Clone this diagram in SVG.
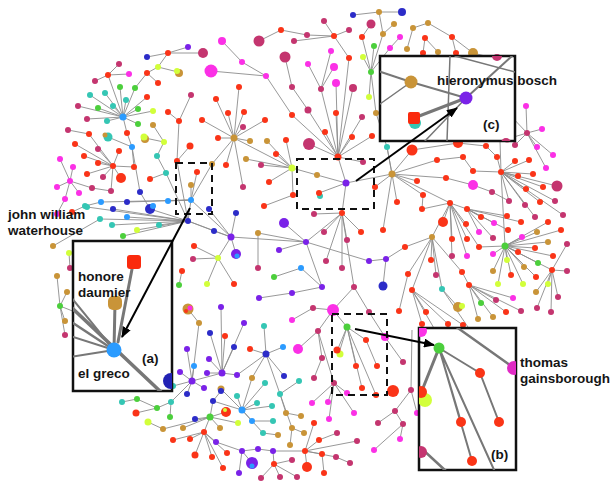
<svg xmlns="http://www.w3.org/2000/svg" width="612" height="481" viewBox="0 0 612 481">
<style>
.e{fill:none;stroke:#8c8c8c;stroke-width:0.9}
.r{fill:#fa3418}.c{fill:#c4356f}.m{fill:#fb30e6}.g{fill:#c99438}.p{fill:#7a22e8}.b{fill:#2c2cc8}.lb{fill:#2b9bff}.t{fill:#35c6b4}.gr{fill:#4ccf3c}.y{fill:#d2ff3a}
.lbl{font-family:"Liberation Sans",Arial,sans-serif;font-weight:bold;font-size:13.5px;fill:#151515}
.box{fill:#fff;stroke:#111;stroke-width:2.5}
.dash{fill:none;stroke:#111;stroke-width:2;stroke-dasharray:7 5}
.il{fill:none;stroke:#777;stroke-linecap:round}
.arr{stroke:#000;stroke-width:2;fill:none}
</style>
<defs>
<marker id="ah" markerWidth="11" markerHeight="9" refX="10" refY="4.5" orient="auto" markerUnits="userSpaceOnUse"><path d="M0 0L11 4.5L0 9z" fill="#000"/></marker>
<clipPath id="clipA"><rect x="73" y="241" width="99" height="150"/></clipPath>
<clipPath id="clipB"><rect x="419" y="328" width="97" height="142"/></clipPath>
<clipPath id="clipC"><rect x="380" y="56" width="135" height="85"/></clipPath>
<filter id="soft" x="-5%" y="-5%" width="110%" height="110%"><feGaussianBlur stdDeviation="0.7"/></filter>
</defs>
<rect width="612" height="481" fill="#fff"/>
<g id="connectors">
<path class="e" d="M123 117L108 75M123 117L90 95M123 117L78 106M123 117L87 119M123 117L98 108M123 117L105 93M123 117L113 106M123 117L120 87M123 117L126 100M123 117L135 88M123 117L138 109M123 117L153 111M123 117L138 124M123 117L107 121M123 117L127 133M123 117L147 97M108 75L95 81M108 75L129 74M108 75L119 64M135 88L147 73L158 67L168 53L147 57M168 53L188 47M168 53L203 53M158 67L178 72M147 73L158 83M127 133L132 147L134 167M108 137L132 147M132 147L140 192L150 209"/>
<path class="e" d="M113 166L75 144M113 166L89 134M113 166L98 149M113 166L84 156M113 166L98 163M113 166L87 174M113 166L103 177M113 166L119 151M113 166L121 178M113 166L111 191M113 166L134 167M68 130L89 134M92 188L111 191M70 181L60 159M70 181L73 167M70 181L57 187M70 181L79 193M70 181L65 199M70 181L92 188M65 199L57 214"/>
<path class="e" d="M191 95L179 121L177 161L188 221M168 112L179 121M153 125L164 142L157 156L166 173L188 221M145 138L164 142M190 146L177 161M150 179L166 173"/>
<path class="e" d="M191 200L197 172M191 200L191 185M191 200L168 201M191 200L188 221M191 200L231 237M191 200L101 202M191 200L127 202M212 164L191 200M188 221L87 207M188 221L100 219M188 221L112 225M188 221L127 217M188 221L113 209M188 221L150 209M188 221L159 225M188 221L137 230M188 221L123 236M188 221L214 231M188 221L231 237M72 212L85 206L101 202M53 246L100 219M69 253L70 268M60 306L57 276M60 306L67 292M60 306L65 321M60 306L65 335M60 306L90 318"/>
<path class="e" d="M234 138L216 99M234 138L228 113M234 138L239 87M234 138L244 112M234 138L202 120M234 138L218 138M234 138L226 165M234 138L212 164M234 138L243 127M234 138L265 120M234 138L250 141M234 138L243 187M234 138L292 168M246 159L292 168"/>
<path class="e" d="M222 41L242 62L266 76L292 115L338 157M211 71L266 76M259 41L281 30L307 35L334 36M285 57L292 87L308 110L338 157M334 36L294 41M334 36L349 30M334 36L324 21M334 36L349 58L338 157M338 157L325 132M338 157L336 113M338 157L352 137M338 157L363 162M338 157L372 136M338 157L362 117M338 157L353 88M338 157L336 83M338 157L321 89M338 157L309 144M338 157L346 183M321 89L308 64M321 89L331 51M321 89L334 67M353 15L379 12L402 12M379 12L383 34L394 24M383 34L371 72M371 72L363 57M371 72L374 46M371 72L369 97M371 72L376 113L387 147L392 174M371 72L390 48L400 37M371 72L362 37L371 24"/>
<path class="e" d="M292 168L267 141M292 168L286 140M292 168L276 154M292 168L261 165M292 168L269 182M292 168L317 175L346 183M292 168L293 195L264 206M319 193L346 183M346 183L392 174M346 183L342 213"/>
<path class="e" d="M392 174L387 147M392 174L375 187M392 174L397 202M392 174L383 230M392 174L412 150M392 174L437 160L463 157L473 171L501 172M392 174L446 178L473 185L492 192L509 201M392 174L417 181M392 174L423 195L422 209M392 174L450 203M412 150L458 143L486 146L497 157L501 172M515 161L501 172M529 160L501 172M450 203L443 222M450 203L452 239M450 203L452 256M450 203L466 224M450 203L467 239M450 203L467 256M450 203L479 247M450 203L467 209M450 203L422 209M450 203L432 237M467 209L481 217M467 209L494 223M467 209L508 230M467 209L507 216M467 209L521 222M467 209L493 238M467 209L479 232"/>
<path class="e" d="M432 237L405 247M432 237L408 274M432 237L431 260M432 237L436 275M432 237L442 289M432 237L412 290M442 289L458 307M432 237L462 272L469 285M469 285L513 298M469 285L496 300M469 285L506 312M469 285L521 311M469 285L481 303M469 285L493 317M469 285L478 319M412 290L426 312M412 290L422 324M412 290L448 324M412 290L463 325M442 289L470 330M412 290L435 330M386 259L405 247"/>
<path class="e" d="M413 28L428 23L452 37L473 53L497 59L515 70M413 28L407 49M425 38L423 53M438 52L425 38M456 53L452 37M527 133L526 106M527 133L542 129M527 133L537 147M527 133L553 155M527 133L546 168M527 133L507 139M527 133L515 145M527 133L510 115M501 172L518 176M501 172L533 174M501 172L526 189M501 172L543 187M501 172L557 186M501 172L540 202M501 172L555 201M501 172L525 205M501 172L535 217M501 172L563 215M501 172L509 201M501 172L500 141M501 172L505 246"/>
<path class="e" d="M505 246L522 237M505 246L537 232M505 246L548 222M505 246L561 230M505 246L548 242M505 246L535 248M505 246L553 256M505 246L518 252M505 246L538 263M505 246L524 267M505 246L507 260M505 246L511 275M505 246L498 284M505 246L523 284M505 246L536 277M505 246L493 271M505 246L493 254M505 246L479 247M505 246L552 270M552 270L567 244M552 270L567 271M552 270L558 297M552 270L536 292M552 270L548 284M552 270L537 308M552 270L551 312"/>
<path class="e" d="M231 237L236 213M231 237L214 231M231 237L209 209M231 237L218 258M231 237L236 254M231 237L306 242M218 258L194 246M218 258L193 259M218 258L207 284M218 258L234 284M306 242L284 223M306 242L279 250M306 242L258 233L258 268M306 242L369 261L386 259L383 286M306 242L322 287M306 242L342 213M342 213L314 214M342 213L324 232M342 213L326 261M342 213L342 268M342 213L347 240M342 213L361 232M342 213L354 287M322 287L301 268L274 277M322 287L292 293L259 298M354 287L333 310L313 308L292 320M333 310L318 331L298 349M333 310L347 327M354 287L369 312L385 337L403 362M318 331L322 358L314 378M318 331L334 383M408 274L399 311"/>
<path class="e" d="M334 383L312 403M334 383L328 402M334 383L329 419M334 383L354 413M334 383L347 393M347 327L337 351M347 327L339 353M347 327L366 340L377 366M347 327L356 366M347 327L362 388M347 327L376 395M378 423L395 411L403 424L374 450M403 424L400 439M395 411L411 390L412 330M417 413L411 390"/>
<path class="e" d="M222 373L221 307M222 373L210 333M222 373L225 336M222 373L234 347M222 373L244 323M222 373L237 375M222 373L207 373M222 373L209 359M222 373L192 381M192 381L187 349M192 381L180 372M192 381L194 366M192 381L199 323L188 309M192 381L204 388M192 381L187 394M192 381L173 386M192 381L171 402M179 285L182 271M266 354L250 349M266 354L283 347M266 354L284 376M266 354L264 326M266 354L252 378L242 410M266 354L237 375"/>
<path class="e" d="M242 410L237 396M242 410L257 403M242 410L265 383M242 410L272 406M242 410L252 421L273 421M242 410L263 433M242 410L213 401L221 391M242 410L221 389M266 354L280 394L299 381M280 394L286 413L301 416M280 394L292 428L304 433M292 428L290 445M278 435L263 433M210 417L195 419M210 417L183 428M210 417L163 429M210 417L220 428M210 417L238 423M210 417L226 412M210 417L213 401M210 417L204 432M171 402L170 417M171 402L157 408L136 413M148 422L163 429M122 402L137 399L157 408"/>
<path class="e" d="M204 432L173 440M204 432L190 439M204 432L195 455M204 432L212 457M204 432L223 468M204 432L227 453M204 432L216 442L242 451L258 449L273 451L305 451M242 451L239 473M242 451L252 463M273 451L274 464L261 478M274 464L280 477M274 464L297 477M274 464L292 460M305 451L307 467M305 451L319 440L337 433M305 451L322 454L324 473M305 451L314 423M305 451L336 457L350 463M305 451L357 441"/>
</g>
<g id="nodes-upper-left">
<circle class="lb" cx="123" cy="117" r="3.5"/><circle class="r" cx="108" cy="75" r="3"/><circle class="t" cx="90" cy="95" r="3"/><circle class="c" cx="78" cy="106" r="3"/><circle class="c" cx="87" cy="119" r="3"/><circle class="gr" cx="98" cy="108" r="3"/><circle class="t" cx="105" cy="93" r="3"/><circle class="t" cx="113" cy="106" r="3"/><circle class="gr" cx="120" cy="87" r="3"/><circle class="t" cx="126" cy="100" r="3"/><circle class="gr" cx="135" cy="88" r="3"/><circle class="gr" cx="138" cy="109" r="3"/><circle class="y" cx="153" cy="111" r="3"/><circle class="gr" cx="138" cy="124" r="3"/><circle class="t" cx="107" cy="121" r="3"/><circle class="r" cx="127" cy="133" r="3"/><circle class="r" cx="147" cy="97" r="3"/><circle class="c" cx="95" cy="81" r="3"/><circle class="m" cx="129" cy="74" r="3"/><circle class="c" cx="119" cy="64" r="3"/><circle class="r" cx="147" cy="73" r="3"/><circle class="y" cx="158" cy="67" r="3"/><circle class="r" cx="168" cy="53" r="3"/><circle class="b" cx="147" cy="57" r="3"/><circle class="p" cx="188" cy="47" r="3"/><circle class="c" cx="203" cy="53" r="5"/><circle class="g" cx="179" cy="73" r="4"/><circle class="y" cx="177" cy="71" r="3"/><circle class="r" cx="158" cy="83" r="3"/><circle class="lb" cx="132" cy="147" r="3"/><circle class="r" cx="134" cy="167" r="3"/><circle class="t" cx="108" cy="137" r="4.5"/><circle class="g" cx="105" cy="135" r="2.5"/><circle class="b" cx="140" cy="192" r="3"/>
<circle class="r" cx="113" cy="166" r="3"/><circle class="r" cx="75" cy="144" r="3"/><circle class="r" cx="89" cy="134" r="3"/><circle class="c" cx="98" cy="149" r="3"/><circle class="r" cx="84" cy="156" r="3"/><circle class="r" cx="98" cy="163" r="3"/><circle class="r" cx="87" cy="174" r="3"/><circle class="c" cx="103" cy="177" r="3"/><circle class="r" cx="119" cy="151" r="3"/><circle class="r" cx="121" cy="178" r="5"/><circle class="c" cx="111" cy="191" r="3"/><circle class="c" cx="68" cy="130" r="3"/><circle class="c" cx="92" cy="188" r="3"/>
<circle class="m" cx="70" cy="181" r="3"/><circle class="m" cx="60" cy="159" r="3"/><circle class="m" cx="73" cy="167" r="3"/><circle class="m" cx="57" cy="187" r="3"/><circle class="m" cx="79" cy="193" r="3"/><circle class="m" cx="65" cy="199" r="3"/><circle class="m" cx="57" cy="214" r="3"/>
<circle class="g" cx="153" cy="125" r="3"/><circle class="y" cx="164" cy="142" r="3"/><circle class="g" cx="145" cy="139" r="4"/><circle class="y" cx="144" cy="137" r="3.5"/><circle class="c" cx="191" cy="95" r="3"/><circle class="r" cx="179" cy="121" r="3"/><circle class="r" cx="168" cy="112" r="3"/><circle class="t" cx="157" cy="156" r="3"/><circle class="r" cx="177" cy="161" r="3"/><circle class="r" cx="190" cy="146" r="3.5"/><circle class="t" cx="166" cy="173" r="3"/><circle class="r" cx="150" cy="179" r="3"/>
</g>
<g id="nodes-waterhouse">
<circle class="lb" cx="191" cy="200" r="3"/><circle class="r" cx="197" cy="172" r="3"/><circle class="g" cx="191" cy="185" r="3"/><circle class="lb" cx="168" cy="201" r="3"/><circle class="b" cx="188" cy="221" r="3"/><circle class="lb" cx="101" cy="202" r="3"/><circle class="b" cx="127" cy="202" r="3"/><circle class="t" cx="87" cy="207" r="3"/><circle class="t" cx="100" cy="219" r="3"/><circle class="t" cx="112" cy="225" r="3"/><circle class="lb" cx="127" cy="217" r="3"/><circle class="b" cx="113" cy="209" r="3"/><circle class="b" cx="150" cy="209" r="5"/><circle class="lb" cx="153" cy="206" r="3"/><circle class="t" cx="159" cy="225" r="3"/><circle class="y" cx="137" cy="230" r="3"/><circle class="gr" cx="123" cy="236" r="3"/><circle class="b" cx="214" cy="231" r="3"/><circle class="r" cx="72" cy="212" r="3"/><circle class="t" cx="85" cy="206" r="3"/><circle class="g" cx="53" cy="246" r="3"/><circle class="y" cx="69" cy="253" r="3"/><circle class="c" cx="70" cy="268" r="3"/><circle class="g" cx="57" cy="276" r="3"/><circle class="g" cx="67" cy="292" r="3"/><circle class="gr" cx="60" cy="306" r="3"/><circle class="g" cx="65" cy="321" r="3"/><circle class="c" cx="65" cy="335" r="3"/>
<circle class="g" cx="234" cy="138" r="3.5"/><circle class="r" cx="216" cy="99" r="3"/><circle class="r" cx="228" cy="113" r="3"/><circle class="r" cx="239" cy="87" r="3"/><circle class="r" cx="244" cy="112" r="3"/><circle class="r" cx="202" cy="120" r="3"/><circle class="r" cx="218" cy="138" r="3"/><circle class="r" cx="226" cy="165" r="3"/><circle class="g" cx="212" cy="164" r="3"/><circle class="c" cx="243" cy="127" r="3"/><circle class="r" cx="265" cy="120" r="3"/><circle class="g" cx="250" cy="141" r="3"/><circle class="c" cx="243" cy="187" r="3"/><circle class="g" cx="246" cy="159" r="3"/>
</g>
<g id="nodes-top">
<circle class="m" cx="222" cy="41" r="4"/><circle class="m" cx="242" cy="62" r="3"/><circle class="m" cx="266" cy="76" r="3"/><circle class="m" cx="211" cy="71" r="6.5"/><circle class="c" cx="259" cy="41" r="5.5"/><circle class="r" cx="281" cy="30" r="3"/><circle class="c" cx="307" cy="35" r="3"/><circle class="r" cx="334" cy="36" r="3"/><circle class="c" cx="285" cy="57" r="5.5"/><circle class="c" cx="292" cy="87" r="3"/><circle class="c" cx="308" cy="110" r="3.5"/><circle class="c" cx="294" cy="41" r="3"/><circle class="c" cx="349" cy="30" r="3"/><circle class="c" cx="324" cy="21" r="3"/><circle class="r" cx="349" cy="58" r="3"/>
<circle class="r" cx="338" cy="157" r="3.5"/><circle class="r" cx="292" cy="115" r="3"/><circle class="r" cx="325" cy="132" r="3"/><circle class="r" cx="336" cy="113" r="3"/><circle class="r" cx="352" cy="137" r="3"/><circle class="c" cx="363" cy="162" r="3"/><circle class="r" cx="372" cy="136" r="3"/><circle class="c" cx="362" cy="117" r="3"/><circle class="c" cx="353" cy="88" r="4"/><circle class="m" cx="336" cy="83" r="4"/><circle class="c" cx="321" cy="89" r="3"/><circle class="c" cx="309" cy="144" r="6"/><circle class="m" cx="308" cy="64" r="3"/><circle class="m" cx="331" cy="51" r="3"/><circle class="m" cx="334" cy="67" r="4"/>
<circle class="b" cx="353" cy="15" r="3"/><circle class="g" cx="379" cy="12" r="3"/><circle class="b" cx="402" cy="12" r="4"/><circle class="g" cx="383" cy="34" r="3"/><circle class="g" cx="394" cy="24" r="3"/><circle class="gr" cx="371" cy="72" r="3"/><circle class="y" cx="363" cy="57" r="3"/><circle class="gr" cx="374" cy="46" r="3"/><circle class="y" cx="369" cy="97" r="3"/><circle class="g" cx="376" cy="113" r="3"/><circle class="m" cx="390" cy="48" r="3"/><circle class="r" cx="362" cy="37" r="3"/><circle class="c" cx="371" cy="24" r="4.5"/><circle class="m" cx="400" cy="37" r="3"/><circle class="t" cx="387" cy="147" r="3"/><circle class="g" cx="392" cy="174" r="3.5"/>
<circle class="y" cx="292" cy="168" r="3.5"/><circle class="g" cx="267" cy="141" r="3"/><circle class="r" cx="286" cy="140" r="3"/><circle class="r" cx="276" cy="154" r="3"/><circle class="c" cx="261" cy="165" r="3"/><circle class="r" cx="269" cy="182" r="3"/><circle class="g" cx="317" cy="175" r="3"/><circle class="r" cx="293" cy="195" r="3"/><circle class="r" cx="264" cy="206" r="3"/><circle class="t" cx="320" cy="196" r="3"/><circle class="r" cx="319" cy="193" r="3"/>
<circle class="p" cx="346" cy="183" r="3.5"/>
</g>
<g id="nodes-right">
<circle class="r" cx="375" cy="187" r="3"/><circle class="r" cx="397" cy="202" r="3"/><circle class="r" cx="383" cy="230" r="3"/><circle class="r" cx="412" cy="150" r="5.5"/><circle class="r" cx="437" cy="160" r="3"/><circle class="r" cx="446" cy="178" r="3"/><circle class="r" cx="417" cy="181" r="3"/><circle class="r" cx="423" cy="195" r="3"/><circle class="r" cx="450" cy="203" r="3"/>
<circle class="r" cx="443" cy="222" r="5"/><circle class="r" cx="452" cy="239" r="3"/><circle class="c" cx="452" cy="256" r="3"/><circle class="r" cx="466" cy="224" r="3"/><circle class="r" cx="467" cy="239" r="3"/><circle class="m" cx="467" cy="256" r="3"/><circle class="r" cx="479" cy="247" r="3"/><circle class="r" cx="467" cy="209" r="3"/><circle class="r" cx="422" cy="209" r="3"/><circle class="g" cx="432" cy="237" r="3"/>
<circle class="r" cx="481" cy="217" r="3"/><circle class="m" cx="494" cy="223" r="3"/><circle class="r" cx="508" cy="230" r="3"/><circle class="r" cx="507" cy="216" r="3"/><circle class="r" cx="521" cy="222" r="3"/><circle class="c" cx="493" cy="238" r="3"/><circle class="m" cx="479" cy="232" r="3"/>
<circle class="r" cx="405" cy="247" r="3"/><circle class="r" cx="408" cy="274" r="3"/><circle class="r" cx="431" cy="260" r="3"/><circle class="c" cx="436" cy="275" r="3"/><circle class="t" cx="442" cy="289" r="3"/><circle class="r" cx="412" cy="290" r="3"/>
<circle class="g" cx="458" cy="307" r="5"/><circle class="y" cx="462" cy="306" r="3"/><circle class="r" cx="462" cy="272" r="3"/><circle class="r" cx="469" cy="285" r="3"/><circle class="m" cx="513" cy="298" r="3"/><circle class="c" cx="496" cy="300" r="3"/><circle class="r" cx="506" cy="312" r="3"/><circle class="c" cx="521" cy="311" r="3"/><circle class="gr" cx="481" cy="303" r="3"/><circle class="g" cx="493" cy="317" r="3"/><circle class="g" cx="478" cy="319" r="3"/>
<circle class="r" cx="426" cy="312" r="3"/><circle class="r" cx="422" cy="324" r="3"/><circle class="r" cx="448" cy="324" r="3"/><circle class="r" cx="463" cy="325" r="3"/>
<circle class="g" cx="428" cy="23" r="3"/><circle class="r" cx="452" cy="37" r="3"/><circle class="g" cx="473" cy="53" r="5"/><circle class="c" cx="497" cy="59" r="5"/><circle class="g" cx="413" cy="28" r="3"/><circle class="g" cx="407" cy="49" r="3"/><circle class="r" cx="425" cy="38" r="3"/><circle class="r" cx="423" cy="53" r="3"/><circle class="g" cx="438" cy="52" r="3"/><circle class="r" cx="456" cy="53" r="3"/>
<circle class="c" cx="527" cy="133" r="3"/><circle class="m" cx="526" cy="106" r="3"/><circle class="m" cx="542" cy="129" r="3"/><circle class="m" cx="537" cy="147" r="3"/><circle class="m" cx="553" cy="155" r="3"/><circle class="m" cx="546" cy="168" r="3"/><circle class="c" cx="507" cy="139" r="3.5"/><circle class="c" cx="515" cy="145" r="3"/>
<circle class="r" cx="501" cy="172" r="3"/><circle class="r" cx="518" cy="176" r="3"/><circle class="r" cx="533" cy="174" r="3"/><circle class="r" cx="526" cy="189" r="3"/><circle class="r" cx="543" cy="187" r="3"/><circle class="c" cx="557" cy="186" r="5.5"/><circle class="r" cx="540" cy="202" r="3"/><circle class="c" cx="555" cy="201" r="3"/><circle class="c" cx="525" cy="205" r="3"/><circle class="c" cx="535" cy="217" r="3"/><circle class="c" cx="563" cy="215" r="3"/><circle class="c" cx="509" cy="201" r="3"/>
<circle class="r" cx="458" cy="143" r="5"/><circle class="r" cx="486" cy="146" r="3"/><circle class="r" cx="497" cy="157" r="3"/><circle class="r" cx="515" cy="161" r="3"/><circle class="r" cx="529" cy="160" r="3"/><circle class="r" cx="463" cy="157" r="3"/><circle class="r" cx="473" cy="171" r="3"/><circle class="m" cx="473" cy="185" r="5"/><circle class="c" cx="492" cy="192" r="3"/>
<circle class="gr" cx="505" cy="246" r="3.5"/><circle class="m" cx="522" cy="237" r="3"/><circle class="g" cx="537" cy="232" r="3"/><circle class="r" cx="548" cy="222" r="3"/><circle class="r" cx="561" cy="230" r="3"/><circle class="g" cx="548" cy="242" r="3"/><circle class="r" cx="535" cy="248" r="3"/><circle class="r" cx="553" cy="256" r="3"/><circle class="r" cx="518" cy="252" r="3"/><circle class="gr" cx="538" cy="263" r="3"/><circle class="g" cx="524" cy="267" r="3"/><circle class="y" cx="507" cy="260" r="3"/><circle class="r" cx="511" cy="275" r="3"/><circle class="y" cx="498" cy="284" r="3"/><circle class="y" cx="523" cy="284" r="3"/><circle class="r" cx="536" cy="277" r="3"/><circle class="g" cx="493" cy="271" r="3"/><circle class="m" cx="493" cy="254" r="3"/>
<circle class="r" cx="552" cy="270" r="3"/><circle class="c" cx="567" cy="244" r="3"/><circle class="c" cx="567" cy="271" r="3"/><circle class="c" cx="558" cy="297" r="3"/><circle class="g" cx="536" cy="292" r="3"/><circle class="y" cx="548" cy="284" r="3"/><circle class="c" cx="537" cy="308" r="3"/><circle class="c" cx="551" cy="312" r="3"/>
</g>
<g id="nodes-middle">
<circle class="p" cx="231" cy="237" r="3.5"/><circle class="b" cx="236" cy="213" r="3"/><circle class="b" cx="209" cy="209" r="3"/><circle class="y" cx="218" cy="258" r="3"/><circle class="p" cx="236" cy="254" r="5"/><circle class="lb" cx="237" cy="256" r="2.5"/><circle class="r" cx="194" cy="246" r="3"/><circle class="c" cx="193" cy="259" r="3"/><circle class="y" cx="207" cy="284" r="3"/><circle class="r" cx="234" cy="284" r="3"/>
<circle class="p" cx="306" cy="242" r="3"/><circle class="p" cx="284" cy="223" r="5"/><circle class="p" cx="279" cy="250" r="3"/><circle class="g" cx="258" cy="233" r="3"/><circle class="c" cx="258" cy="268" r="3"/><circle class="p" cx="369" cy="261" r="3"/><circle class="p" cx="322" cy="287" r="3"/><circle class="r" cx="342" cy="213" r="3"/>
<circle class="c" cx="314" cy="214" r="3"/><circle class="c" cx="324" cy="232" r="3"/><circle class="c" cx="326" cy="261" r="3"/><circle class="c" cx="342" cy="268" r="3"/><circle class="c" cx="347" cy="240" r="3"/><circle class="r" cx="361" cy="232" r="3"/><circle class="c" cx="354" cy="287" r="3"/>
<circle class="p" cx="386" cy="259" r="3"/><circle class="b" cx="383" cy="286" r="4.5"/><circle class="lb" cx="301" cy="268" r="3"/><circle class="gr" cx="274" cy="277" r="3"/><circle class="p" cx="292" cy="293" r="3"/><circle class="p" cx="259" cy="298" r="3"/>
<circle class="m" cx="333" cy="310" r="6"/><circle class="c" cx="313" cy="308" r="3"/><circle class="m" cx="292" cy="320" r="3"/><circle class="c" cx="318" cy="331" r="3"/><circle class="m" cx="298" cy="349" r="5"/><circle class="gr" cx="347" cy="327" r="3.5"/><circle class="c" cx="369" cy="312" r="3"/><circle class="m" cx="385" cy="337" r="4"/><circle class="c" cx="322" cy="358" r="3"/><circle class="c" cx="314" cy="378" r="3"/><circle class="r" cx="399" cy="311" r="3"/><circle class="c" cx="403" cy="362" r="3"/>
<circle class="c" cx="334" cy="383" r="3"/><circle class="m" cx="312" cy="403" r="3"/><circle class="m" cx="328" cy="402" r="3"/><circle class="m" cx="329" cy="419" r="3"/><circle class="m" cx="354" cy="413" r="3"/><circle class="m" cx="347" cy="393" r="3"/>
<circle class="y" cx="340" cy="354" r="3.5"/><circle class="r" cx="337" cy="350" r="3.5"/><circle class="r" cx="366" cy="340" r="3"/><circle class="r" cx="356" cy="366" r="3"/><circle class="r" cx="377" cy="366" r="3"/><circle class="r" cx="362" cy="388" r="3"/><circle class="r" cx="376" cy="395" r="3"/>
<circle class="r" cx="393" cy="391" r="6"/><circle class="c" cx="411" cy="390" r="3"/><circle class="c" cx="395" cy="411" r="3"/><circle class="c" cx="403" cy="424" r="3"/><circle class="m" cx="374" cy="450" r="3"/><circle class="m" cx="400" cy="439" r="3"/><circle class="c" cx="378" cy="423" r="3"/><circle class="m" cx="417" cy="413" r="3"/>
</g>
<g id="nodes-bottom-left">
<circle class="p" cx="222" cy="373" r="3.5"/><circle class="p" cx="221" cy="307" r="3"/><circle class="b" cx="210" cy="333" r="3"/><circle class="r" cx="225" cy="336" r="3"/><circle class="b" cx="234" cy="347" r="3"/><circle class="p" cx="244" cy="323" r="3"/><circle class="p" cx="237" cy="375" r="3"/><circle class="p" cx="207" cy="373" r="3"/><circle class="p" cx="209" cy="359" r="3"/>
<circle class="p" cx="192" cy="381" r="3.5"/><circle class="p" cx="187" cy="349" r="3"/><circle class="p" cx="180" cy="372" r="3"/><circle class="lb" cx="194" cy="366" r="3"/><circle class="g" cx="199" cy="323" r="3"/><circle class="p" cx="204" cy="388" r="3"/><circle class="b" cx="187" cy="394" r="3"/><circle class="t" cx="173" cy="386" r="3"/><circle class="t" cx="171" cy="402" r="3"/>
<circle class="g" cx="188" cy="309" r="5.5"/><circle class="m" cx="190" cy="308" r="2.5"/><circle class="r" cx="186" cy="311" r="2"/><circle class="r" cx="182" cy="271" r="3"/><circle class="gr" cx="179" cy="285" r="3"/>
<circle class="b" cx="266" cy="354" r="3.5"/><circle class="r" cx="250" cy="349" r="3"/><circle class="lb" cx="283" cy="347" r="3"/><circle class="b" cx="284" cy="376" r="3"/><circle class="t" cx="264" cy="326" r="3"/><circle class="g" cx="252" cy="378" r="3"/>
<circle class="lb" cx="242" cy="410" r="3.5"/><circle class="t" cx="237" cy="396" r="3"/><circle class="t" cx="257" cy="403" r="3"/><circle class="t" cx="265" cy="383" r="3"/><circle class="t" cx="272" cy="406" r="3"/><circle class="lb" cx="252" cy="421" r="3"/><circle class="t" cx="273" cy="421" r="3"/><circle class="t" cx="263" cy="433" r="3"/><circle class="b" cx="213" cy="401" r="3"/><circle class="g" cx="221" cy="389" r="3.5"/>
<circle class="t" cx="280" cy="394" r="3"/><circle class="t" cx="299" cy="381" r="3"/><circle class="g" cx="286" cy="413" r="3"/><circle class="g" cx="301" cy="416" r="3"/><circle class="g" cx="292" cy="428" r="3"/><circle class="g" cx="304" cy="433" r="3"/><circle class="g" cx="290" cy="445" r="3"/><circle class="g" cx="278" cy="435" r="3"/>
<circle class="gr" cx="210" cy="417" r="3.5"/><circle class="b" cx="195" cy="419" r="3"/><circle class="g" cx="183" cy="428" r="3"/><circle class="g" cx="163" cy="429" r="3"/><circle class="g" cx="220" cy="428" r="3"/><circle class="y" cx="238" cy="423" r="3"/><circle class="r" cx="226" cy="412" r="5"/><circle class="y" cx="225" cy="410" r="2"/><circle class="b" cx="221" cy="391" r="3"/>
<circle class="gr" cx="170" cy="417" r="3"/><circle class="gr" cx="157" cy="408" r="3"/><circle class="r" cx="136" cy="413" r="3.5"/><circle class="y" cx="148" cy="422" r="3.5"/><circle class="t" cx="122" cy="402" r="3"/><circle class="gr" cx="137" cy="399" r="3"/>
<circle class="r" cx="204" cy="432" r="3"/><circle class="r" cx="173" cy="440" r="3"/><circle class="r" cx="190" cy="439" r="3"/><circle class="r" cx="195" cy="455" r="3.5"/><circle class="r" cx="212" cy="457" r="3"/><circle class="r" cx="223" cy="468" r="3"/><circle class="r" cx="227" cy="453" r="3"/><circle class="p" cx="216" cy="442" r="3"/><circle class="p" cx="242" cy="451" r="3"/><circle class="p" cx="258" cy="449" r="3"/><circle class="p" cx="273" cy="451" r="3"/><circle class="r" cx="305" cy="451" r="3"/><circle class="p" cx="239" cy="473" r="3"/><circle class="p" cx="252" cy="463" r="6"/><circle class="lb" cx="252" cy="466" r="2.5"/>
<circle class="r" cx="274" cy="464" r="3"/><circle class="c" cx="261" cy="478" r="3"/><circle class="c" cx="280" cy="477" r="3"/><circle class="c" cx="297" cy="477" r="3"/><circle class="c" cx="292" cy="460" r="3"/>
<circle class="r" cx="307" cy="467" r="5"/><circle class="r" cx="319" cy="440" r="3"/><circle class="r" cx="322" cy="454" r="3"/><circle class="r" cx="314" cy="423" r="3"/><circle class="c" cx="336" cy="457" r="3"/><circle class="c" cx="357" cy="441" r="3"/><circle class="c" cx="337" cy="433" r="3"/><circle class="r" cx="324" cy="473" r="3"/><circle class="c" cx="350" cy="463" r="3"/>
</g>
<g id="dashed-boxes">
<rect class="dash" x="176" y="163" width="36" height="51"/>
<rect class="dash" x="297" y="159" width="77" height="50"/>
<rect class="dash" x="332" y="314" width="55" height="81"/>
</g>
<g id="inset-a">
<rect class="box" x="73" y="241" width="99" height="150"/>
<g clip-path="url(#clipA)"><g filter="url(#soft)">
<path class="il" stroke-width="3.5" d="M70 306L162 393"/>
<path class="il" stroke-width="2.5" d="M70 321L114 350"/>
<path class="il" stroke-width="2" d="M70 336L114 350M70 357L114 350M70 296L114 350"/>
<path class="il" stroke-width="3" d="M114 350L115 303M118 342L133 264"/>
<rect x="127" y="255" width="14" height="14" rx="3" fill="#fa2a10"/>
<rect x="108" y="296" width="14" height="14" rx="5" fill="#c99438"/>
<circle cx="114" cy="350" r="7.5" fill="#2b9bff"/>
<circle cx="171" cy="381" r="8" fill="#2222b4"/>
</g></g>
<text class="lbl" x="78" y="281">honore</text>
<text class="lbl" x="78" y="297">daumier</text>
<text class="lbl" x="78" y="378">el greco</text>
<text class="lbl" x="142" y="363">(a)</text>
</g>
<g id="inset-c">
<rect class="box" x="380" y="56" width="135" height="85"/>
<g clip-path="url(#clipC)"><g filter="url(#soft)">
<path class="il" stroke-width="1.5" d="M450 56L447 141M455 56L515 72M411 82L380 104M466 98L425 141"/>
<path class="il" stroke-width="2" d="M378 71L411 82L466 98M466 98L512 56"/>
<path class="il" stroke-width="3" d="M414 118L466 98"/>
<circle cx="497" cy="56" r="5" fill="#c4356f"/>
<circle cx="411" cy="82" r="6.5" fill="#c99438"/>
<circle cx="415" cy="123" r="6" fill="#36c6b4"/>
<rect x="408" y="112" width="12" height="12" rx="2" fill="#fa2a10"/>
<circle cx="466" cy="98" r="6.5" fill="#7a22e8"/>
<circle cx="506" cy="143" r="5" fill="#c4356f"/>
</g></g>
<text class="lbl" x="437" y="85">hieronymus bosch</text>
<text class="lbl" x="483" y="129">(c)</text>
</g>
<g id="inset-b">
<rect class="box" x="419" y="328" width="97" height="142"/>
<g clip-path="url(#clipB)"><g filter="url(#soft)">
<path class="il" stroke-width="3" d="M439 348L421 393"/>
<path class="il" stroke-width="2" d="M439 348L480 373M439 348L461 422M439 348L472 461M439 348L495 472M480 373L499 422"/>
<path class="il" stroke-width="2.5" d="M455 326L514 368M421 448L447 472"/>
<circle cx="421" cy="331" r="6" fill="#fb30e6"/>
<circle cx="439" cy="348" r="5.5" fill="#4ccf3c"/>
<circle cx="425" cy="400" r="7" fill="#d2ff3a"/>
<circle cx="421" cy="392" r="6" fill="#fa3418"/>
<circle cx="480" cy="373" r="5" fill="#fa3418"/>
<circle cx="461" cy="422" r="5" fill="#fa3418"/>
<circle cx="499" cy="422" r="5" fill="#fa3418"/>
<circle cx="472" cy="461" r="5" fill="#fa3418"/>
<circle cx="421" cy="452" r="6" fill="#c4356f"/>
<circle cx="514" cy="368" r="7" fill="#e02ac4"/>
</g></g>
<text class="lbl" x="520" y="367">thomas</text>
<text class="lbl" x="520" y="383">gainsborough</text>
<text class="lbl" x="491" y="459">(b)</text>
</g>
<g id="label-waterhouse">
<text class="lbl" x="8" y="219">john william</text>
<text class="lbl" x="8" y="235">waterhouse</text>
</g>
<g id="arrows">
<path class="arr" d="M190 208L122 337" marker-end="url(#ah)"/>
<path class="arr" d="M356 181L457 108" marker-end="url(#ah)"/>
<path class="arr" d="M355 329L434 345" marker-end="url(#ah)"/>
</g>
</svg>
